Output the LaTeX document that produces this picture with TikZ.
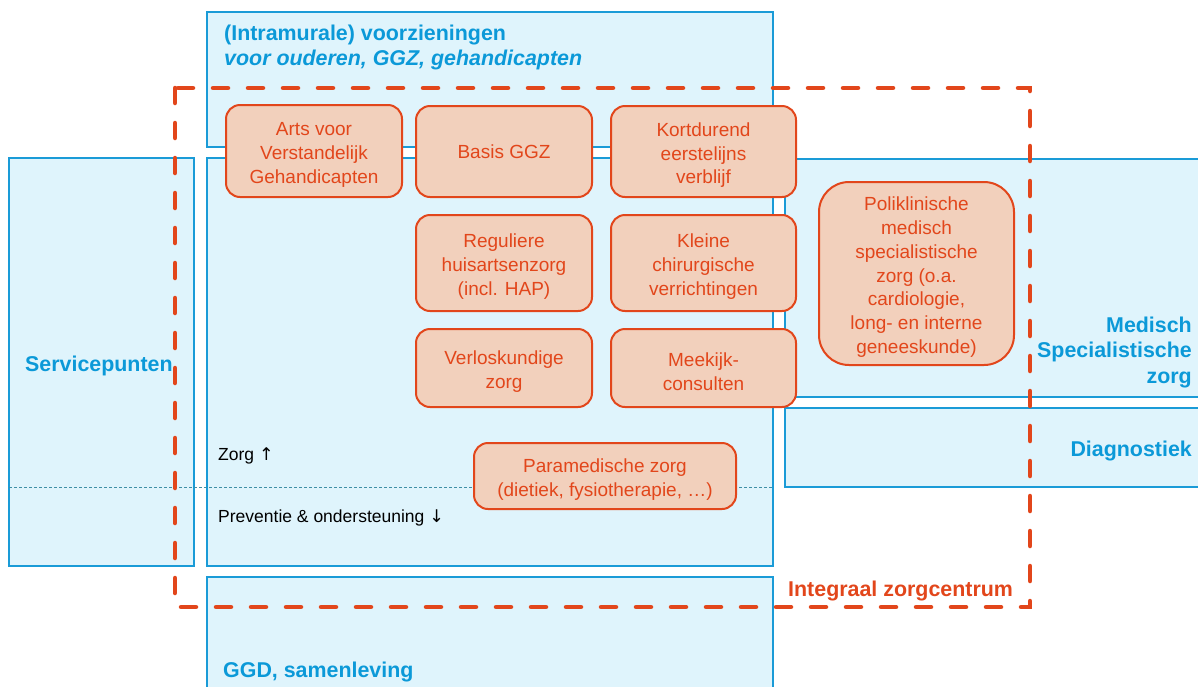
\documentclass[tikz,border=0pt]{standalone}
\usepackage{fontspec}
\setmainfont{Liberation Sans}
\newfontfamily\arrowfont{DejaVu Sans}
\newcommand\tstrutx{\rule{0pt}{21pt}}
\definecolor{bstroke}{HTML}{1A9BD7}
\definecolor{bfill}{HTML}{DFF4FC}
\definecolor{btext}{HTML}{0B99D8}
\definecolor{ostroke}{HTML}{E2461B}
\definecolor{ofill}{HTML}{F2D0BC}
\definecolor{dotc}{HTML}{3F8FA5}
\tikzset{
  zone/.style={draw=bstroke, fill=bfill, line width=2pt},
  zonetitle/.style={text=btext, font=\fontsize{21.4}{25.5}\selectfont\bfseries, inner sep=0pt},
  obox/.style={draw=ostroke, fill=ofill, line width=2pt, rounded corners=14pt, text=ostroke,
    font=\fontsize{19}{23.8}\selectfont, align=center, inner sep=0pt},
  plain/.style={text=black, font=\fontsize{17.5}{21}\selectfont, inner sep=0pt},
  icz/.style={draw=ostroke, line width=4.5pt, line cap=round, dash pattern=on 15pt off 20pt},
  sepline/.style={draw=dotc, line width=0.9pt, dash pattern=on 3pt off 2pt}
}
\begin{document}
\begin{tikzpicture}[x=1pt,y=-1pt]
\useasboundingbox (0,0) rectangle (1198,686);
\clip (0,0) rectangle (1198,686);
% zones
\draw[zone] (207,12) rectangle (773,147);
\draw[zone] (9,158) rectangle (194,566);
\draw[zone] (207,158) rectangle (773,566);
\draw[zone] (785,159) rectangle (1215,397);
\draw[zone] (785,408) rectangle (1215,487);
\draw[zone] (207,577) rectangle (773,700);
% separator
\draw[sepline] (9,487) -- (773,487);
% zone titles
\node[zonetitle, anchor=base west] (intra1) at (224,40) {(Intramurale) voorzieningen};
\node[zonetitle, anchor=base west] (intra2) at (224,65) {\itshape voor ouderen, GGZ, gehandicapten};
\node[zonetitle, anchor=base west] (serv) at (25,371) {Servicepunten};
\node[zonetitle, anchor=base east] (med1) at (1192,332) {Medisch};
\node[zonetitle, anchor=base east] (med2) at (1192,357.5) {Specialistische};
\node[zonetitle, anchor=base east] (med3) at (1192,383) {zorg};
\node[zonetitle, anchor=base east] (diag) at (1192,456) {Diagnostiek};
\node[zonetitle, anchor=base west] (ggd) at (223,677) {GGD, samenleving};
\node[plain, anchor=base west] (zorg) at (218,460) {Zorg {\arrowfont ↑}};
\node[plain, anchor=base west] (prev) at (218,522) {Preventie \& ondersteuning {\arrowfont ↓}};
% orange boxes
\node[obox, minimum width=176pt, minimum height=92pt] (arts) at (314,151) {\tstrutx Arts voor\\Verstandelijk\\Gehandicapten};
\node[obox, minimum width=176pt, minimum height=91pt] (basis) at (504,151.5) {Basis GGZ};
\node[obox, minimum width=185pt, minimum height=91pt] (kort) at (703.5,151.5) {\tstrutx Kortdurend\\eerstelijns\\verblijf};
\node[obox, minimum width=176pt, minimum height=96pt] (regul) at (504,263) {\tstrutx Reguliere\\huisartsenzorg\\(incl. HAP)};
\node[obox, minimum width=185pt, minimum height=96pt] (kleine) at (703.5,263) {\tstrutx Kleine\\chirurgische\\verrichtingen};
\node[obox, minimum width=176pt, minimum height=78pt] (verlos) at (504,368) {\tstrutx Verloskundige\\zorg};
\node[obox, minimum width=185pt, minimum height=78pt] (meek) at (703.5,368) {\tstrutx Meekijk-\\consulten};
\node[obox, rounded corners=30pt, minimum width=195pt, minimum height=183pt] (poli) at (916.5,273.5)
  {\tstrutx Poliklinische\\medisch\\specialistische\\zorg (o.a.\\cardiologie,\\long- en interne\\geneeskunde)};
\node[obox, minimum width=262pt, minimum height=66pt] (para) at (605,476) {\tstrutx Paramedische zorg\\(dietiek, fysiotherapie, \ldots)};
% integraal zorgcentrum
\draw[icz] (175,88) rectangle (1030,607);
\node[text=ostroke, font=\fontsize{21.4}{25}\selectfont\bfseries, inner sep=0pt, anchor=base west] (izc) at (788,596) {Integraal zorgcentrum};
\end{tikzpicture}
\end{document}
